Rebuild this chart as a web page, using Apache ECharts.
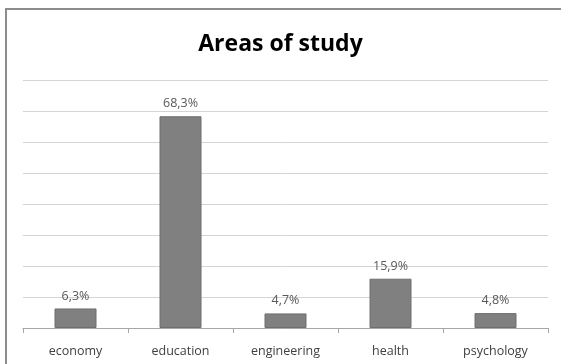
<!DOCTYPE html>
<html>
<head>
<meta charset="utf-8">
<script src="https://cdn.jsdelivr.net/npm/echarts@6/dist/echarts.min.js"></script>
<style>
html, body { margin: 0; padding: 0; background: #fff; }
#chart { width: 561px; height: 364px; }
</style>
</head>
<body>
<div id="chart"></div>
<script>
// areas of study, share of respondents (%)
var areas = ['economy', 'education', 'engineering', 'health', 'psychology']
var shares = [6.3, 68.3, 4.7, 15.9, 4.8]

var chart = echarts.init(document.getElementById('chart'))
chart.setOption({
    animation: false,
    textStyle: { fontFamily: 'Open Sans' },
    title: {
        text: 'Areas of study',
        left: 'center',
        top: 28,
        textStyle: {
            fontFamily: 'Open Sans',
            fontSize: 23,
            fontWeight: 'bold',
            color: '#000'
        }
    },
    // frame of the chart area, cut off at right and bottom
    graphic: [{
        type: 'rect',
        shape: { x: 6, y: 9, width: 600, height: 400 },
        style: { fill: 'none', stroke: '#8c8c8c', lineWidth: 2 },
        silent: true
    }],
    grid: {
        left: 23,
        right: 13,
        top: 80,
        bottom: 36
    },
    xAxis: {
        type: 'category',
        data: areas,
        axisLine: { lineStyle: { color: '#a6a6a6' } },
        axisTick: { show: true, length: 5, lineStyle: { color: '#a6a6a6' } },
        axisLabel: { color: '#404040', fontSize: 12.5, margin: 17 }
    },
    yAxis: {
        type: 'value',
        min: 0,
        max: 80,
        interval: 10,
        axisLine: { show: false },
        axisTick: { show: false },
        axisLabel: { show: false },
        splitLine: { lineStyle: { color: '#d4d4d4', width: 1 } }
    },
    series: [{
        type: 'bar',
        data: shares,
        barWidth: '40%',
        itemStyle: {
            color: '#808080',
            borderColor: '#6e6e6e',
            borderWidth: 1
        },
        label: {
            show: true,
            position: 'top',
            distance: 6,
            color: '#595959',
            fontSize: 12.5,
            formatter: function (p) {
                return p.value.toFixed(1).replace('.', ',') + '%'
            }
        }
    }]
})
</script>
</body>
</html>
